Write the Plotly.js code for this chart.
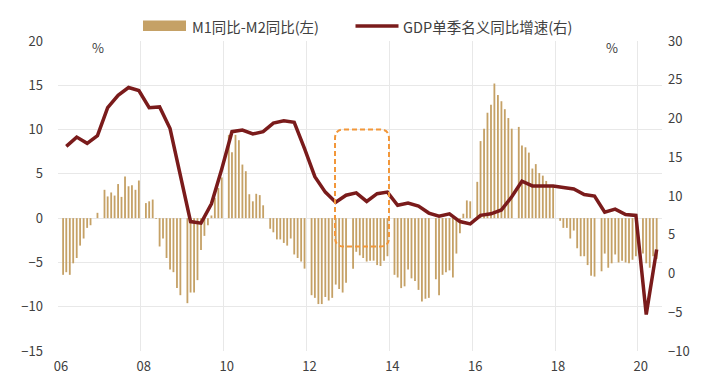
<!DOCTYPE html>
<html>
<head>
<meta charset="utf-8">
<script src="https://cdn.plot.ly/plotly-3.0.1.min.js"></script>
<style>html,body{margin:0;padding:0;background:#fff;}#chart{width:711px;height:392px;}</style>
</head>
<body>
<div id="chart"></div>
<script>
// M1 yoy minus M2 yoy (pct points), monthly, January not reported
const startYear = 2006;
const spread2006 = [null, -6.4, -6.1, -6.4, -5.1, -4.5, -3.1, -2.3, -1.1, -0.8, 0.0, 0.6];
const spread2007 = [null, 3.2, 2.45, 2.9, 2.55, 3.85, 2.4, 4.7, 3.6, 3.7, 3.2, 4.25];
const spread2008 = [null, 1.7, 1.9, 2.1, -0.1, -3.2, -2.3, -4.5, -5.8, -6.1, -7.9, -8.7];
const spread2009 = [null, -9.6, -8.4, -8.4, -7.0, -3.6, -2.0, -0.8, 0.3, 2.3, 3.4, 4.6];
const spread2010 = [null, 9.4, 7.45, 9.4, 8.8, 6.05, 5.3, 2.7, 1.9, 2.75, 2.6, 1.45];
const spread2011 = [null, -1.2, -1.6, -2.4, -2.4, -2.8, -3.1, -2.3, -4.1, -4.5, -4.9, -5.7];
const spread2012 = [null, -8.7, -9.0, -9.7, -9.7, -8.9, -9.3, -9.0, -7.5, -8.0, -8.4, -7.3];
const spread2013 = [null, -5.7, -3.8, -4.2, -4.5, -4.9, -4.8, -4.8, -5.3, -5.4, -4.8, -4.3];
const spread2014 = [null, -6.4, -6.7, -7.9, -7.7, -5.8, -6.8, -7.1, -8.1, -9.4, -9.1, -9.0];
const spread2015 = [null, -6.9, -8.7, -6.4, -6.1, -5.9, -6.7, -4.0, -1.7, 0.5, 2.0, 1.9];
const spread2016 = [null, 4.1, 8.7, 10.1, 11.9, 12.8, 15.2, 13.9, 13.2, 12.3, 11.3, 10.1];
const spread2017 = [null, 10.3, 8.2, 8.0, 7.4, 5.6, 6.1, 5.1, 4.8, 4.2, 3.6, 3.6];
const spread2018 = [null, -0.3, -1.1, -1.1, -2.3, -1.4, -3.4, -4.3, -4.3, -5.3, -6.5, -6.6];
const spread2019 = [null, -6.0, -4.0, -5.6, -5.1, -4.1, -5.0, -4.8, -5.0, -5.1, -4.7, -4.3];
const spread2020 = [null, -4.0, -5.1, -5.6, -4.3, -4.6];

// GDP nominal yoy growth by quarter (%), Q1..Q4
const gdp2006 = [16.4, 17.6, 16.8, 17.8];
const gdp2007 = [21.4, 23.0, 24.0, 23.6];
const gdp2008 = [21.4, 21.5, 18.7, 12.6];
const gdp2009 = [6.7, 6.5, 9.0, 13.5];
const gdp2010 = [18.3, 18.5, 18.0, 18.3];
const gdp2011 = [19.4, 19.7, 19.5, 16.1];
const gdp2012 = [12.5, 10.5, 9.2, 10.1];
const gdp2013 = [10.4, 9.3, 10.3, 10.5];
const gdp2014 = [8.8, 9.1, 8.7, 7.8];
const gdp2015 = [7.4, 7.7, 6.7, 6.4];
const gdp2016 = [7.5, 7.7, 8.2, 9.9];
const gdp2017 = [11.9, 11.3, 11.35, 11.3];
const gdp2018 = [11.1, 10.9, 10.2, 10.0];
const gdp2019 = [7.9, 8.3, 7.6, 7.5];
const gdp2020 = [-5.3, 3.1];

const barName = 'M1同比-M2同比(左)';
const lineName = 'GDP单季名义同比增速(右)';

const spreadYears = [spread2006, spread2007, spread2008, spread2009, spread2010, spread2011, spread2012,
  spread2013, spread2014, spread2015, spread2016, spread2017, spread2018, spread2019, spread2020];
const gdpYears = [gdp2006, gdp2007, gdp2008, gdp2009, gdp2010, gdp2011, gdp2012, gdp2013,
  gdp2014, gdp2015, gdp2016, gdp2017, gdp2018, gdp2019, gdp2020];

function pad(n){return (n<10?'0':'')+n;}
const bx = [], by = [];
spreadYears.forEach((arr, i) => {
  arr.forEach((v, m) => { bx.push((startYear+i)+'-'+pad(m+1)+'-15'); by.push(v); });
});
const lx = [], ly = [];
gdpYears.forEach((arr, i) => {
  arr.forEach((v, q) => { lx.push((startYear+i)+'-'+pad(q*3+3)+'-15'); ly.push(v); });
});

const W = 604, H = 310, L = 58, T = 41;
const px = x => (x - L) / W;
const py = y => (T + H - y) / H;

function roundRect(x0, y0, x1, y1, r){
  const ax0 = px(x0), ax1 = px(x1), ay0 = py(y0), ay1 = py(y1);
  const rx = r / W, ry = r / H;
  return `M${ax0+rx},${ay0} L${ax1-rx},${ay0} Q${ax1},${ay0} ${ax1},${ay0-ry} L${ax1},${ay1+ry} Q${ax1},${ay1} ${ax1-rx},${ay1} L${ax0+rx},${ay1} Q${ax0},${ay1} ${ax0},${ay1+ry} L${ax0},${ay0-ry} Q${ax0},${ay0} ${ax0+rx},${ay0} Z`;
}

const barColor = '#C5A166';
const lineColor = '#7A1B1B';
const font = "'Noto Sans CJK SC', 'Noto Sans', sans-serif";

const traces = [
  { type: 'bar', x: bx, y: by, name: barName, marker: { color: barColor },
    width: 16*86400000, yaxis: 'y', showlegend: false, hoverinfo: 'skip' },
  { type: 'scatter', mode: 'lines', x: lx, y: ly, name: lineName, yaxis: 'y2',
    line: { color: lineColor, width: 3.5 }, showlegend: false }
];

const layout = {
  width: 711, height: 392,
  margin: { l: L, r: 711 - L - W, t: T, b: 392 - T - H },
  paper_bgcolor: '#fff', plot_bgcolor: '#fff',
  font: { family: font, size: 13, color: '#404040' },
  showlegend: false,
  xaxis: { type: 'date', range: ['2006-01-01', '2020-08-01'], tick0: '2006-01-01', dtick: 'M24',
    tickformat: '%y', showgrid: true, gridcolor: '#E8E8E8', gridwidth: 1, zeroline: false,
    showline: false, ticks: '', ticklabelshift: 3, ticklabelstandoff: 6, tickfont: { size: 13, color: '#404040' } },
  yaxis: { range: [-15, 20], dtick: 5, tick0: 0, showgrid: true, gridcolor: '#E8E8E8', gridwidth: 1,
    zeroline: false, showline: false, ticks: '', ticklabelstandoff: 14, tickfont: { size: 13, color: '#404040' } },
  yaxis2: { range: [-10, 30], dtick: 5, tick0: 0, overlaying: 'y', side: 'right', showgrid: false,
    zeroline: false, showline: false, ticks: '', ticklabelstandoff: 5, tickfont: { size: 13, color: '#404040' } },
  shapes: [
    { type: 'path', xref: 'paper', yref: 'paper', path: roundRect(335, 129.5, 389, 246.5, 9),
      line: { color: '#F2973A', width: 2, dash: '5px,3px' }, fillcolor: 'rgba(0,0,0,0)' },
    { type: 'rect', xref: 'paper', yref: 'paper', x0: px(143), x1: px(186), y0: py(31), y1: py(20.5),
      fillcolor: barColor, line: { width: 0 } },
    { type: 'line', xref: 'paper', yref: 'paper', x0: px(355.5), x1: px(398.5), y0: py(26), y1: py(26),
      line: { color: lineColor, width: 3.5 } }
  ],
  annotations: [
    { xref: 'paper', yref: 'paper', x: px(190), y: py(26), xanchor: 'left', yanchor: 'middle',
      text: barName, showarrow: false, font: { size: 14.5, color: '#404040' } },
    { xref: 'paper', yref: 'paper', x: px(401), y: py(26), xanchor: 'left', yanchor: 'middle',
      text: lineName, showarrow: false, font: { size: 14.5, color: '#404040' } },
    { xref: 'paper', yref: 'paper', x: px(98), y: py(47), xanchor: 'center', yanchor: 'middle',
      text: '%', showarrow: false, font: { size: 13, color: '#404040' } },
    { xref: 'paper', yref: 'paper', x: px(612), y: py(47), xanchor: 'center', yanchor: 'middle',
      text: '%', showarrow: false, font: { size: 13, color: '#404040' } }
  ]
};

Plotly.newPlot('chart', traces, layout, { staticPlot: true, displayModeBar: false });
</script>
</body>
</html>
